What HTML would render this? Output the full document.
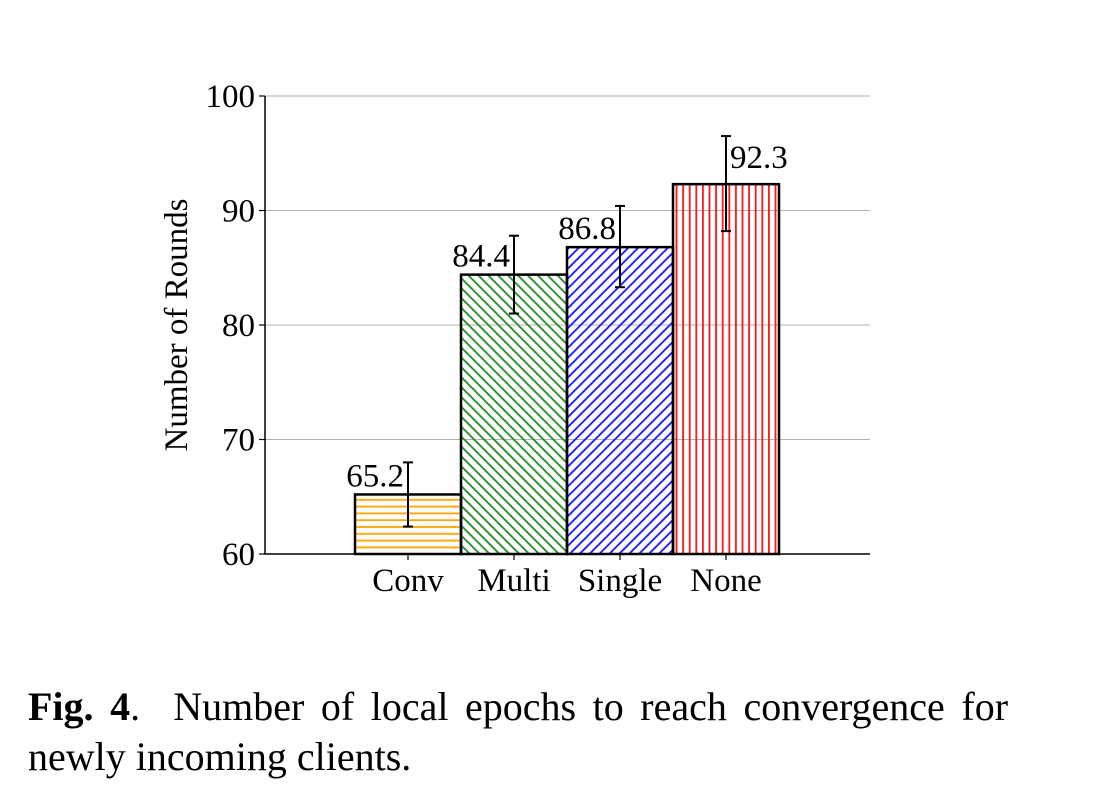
<!DOCTYPE html>
<html><head><meta charset="utf-8"><style>
body{margin:0;background:#fff;width:1100px;height:806px;overflow:hidden;font-family:"Liberation Serif",serif;}
svg text{font-family:"Liberation Serif",serif;fill:#000;}
#cap{position:absolute;left:28px;top:682px;width:980px;font-size:40px;line-height:50px;}
#l1{display:block;text-align:justify;text-align-last:justify;white-space:nowrap;}
</style></head><body>
<svg id="chart" width="1100" height="680" style="position:absolute;left:0;top:0">
<defs>
<pattern id="p0" patternUnits="userSpaceOnUse" width="7" height="6.8"><line x1="0" y1="3.4" x2="7" y2="3.4" stroke="#FFA500" stroke-width="1.8"/></pattern>
<pattern id="p1" patternUnits="userSpaceOnUse" width="7" height="7" patternTransform="rotate(-45)"><line x1="3.5" y1="0" x2="3.5" y2="7" stroke="#228B22" stroke-width="1.8"/></pattern>
<pattern id="p2" patternUnits="userSpaceOnUse" width="7" height="7" patternTransform="rotate(45)"><line x1="3.5" y1="0" x2="3.5" y2="7" stroke="#1515FF" stroke-width="1.8"/></pattern>
<pattern id="p3" patternUnits="userSpaceOnUse" width="6.6" height="7"><line x1="3.3" y1="0" x2="3.3" y2="7" stroke="#FF1515" stroke-width="1.8"/></pattern>
</defs>
<g id="g"></g>
</svg>
<div id="cap"><span id="l1"><b>Fig. 4</b>.&nbsp; Number of local epochs to reach convergence for</span>newly incoming clients.</div>
<script>
const categories=["Conv","Multi","Single","None"];
const values=[65.2,84.4,86.8,92.3];
const errLow=[62.4,81.0,83.3,88.2];
const errHigh=[68.0,87.8,90.4,96.5];
const yTicks=[60,70,80,90,100];
const NS="http://www.w3.org/2000/svg";
const g=document.getElementById('g');
const x0=265,x1=870,yTop=96,yBot=554,yMin=60,yMax=100;
const y=v=>yBot-(v-yMin)/(yMax-yMin)*(yBot-yTop);
const bw=106,start=355;
const bx=i=>start+i*bw;
function mk(t,a,p){const e=document.createElementNS(NS,t);for(const k in a)e.setAttribute(k,a[k]);(p||g).appendChild(e);return e;}
yTicks.forEach(t=>{
  if(t>yMin){const l=mk('line',{x1:x0,x2:x1,y1:y(t),y2:y(t),stroke:'#b0b0b0','stroke-width':1});
  
  }
  const tk=mk('line',{x1:x0-6,x2:x0,y1:y(t),y2:y(t),stroke:'#000','stroke-width':1.2});
  
  
  const tx=mk('text',{x:x0-10,y:y(t)+11,'text-anchor':'end','font-size':33});
  tx.textContent=t;
  
  
});
categories.forEach((c,i)=>{
  const r=mk('rect',{x:bx(i),y:y(values[i]),width:bw,height:yBot-y(values[i]),fill:'url(#p'+i+')',stroke:'#000','stroke-width':2.5});
  
  
  const cx=bx(i)+bw/2;
  const eg=mk('g',{stroke:'#000','stroke-width':2});
  
  
  mk('line',{x1:cx,x2:cx,y1:y(errLow[i]),y2:y(errHigh[i])},eg);
  mk('line',{x1:cx-5,x2:cx+5,y1:y(errLow[i]),y2:y(errLow[i])},eg);
  mk('line',{x1:cx-5,x2:cx+5,y1:y(errHigh[i]),y2:y(errHigh[i])},eg);
  const vl=mk('text',{x:i==3?cx+4:cx-4,y:y(values[i])-(i==3?16:8),'text-anchor':i==3?'start':'end','font-size':33});
  vl.textContent=values[i].toFixed(1);
  
  
  const xt=mk('line',{x1:cx,x2:cx,y1:yBot,y2:yBot+6,stroke:'#000','stroke-width':1.2});
  
  
  const xl=mk('text',{x:cx,y:yBot+37,'text-anchor':'middle','font-size':33});
  xl.textContent=c;
  
  
});
const ax=mk('path',{d:`M${x0} ${yTop}V${yBot}H${x1}`,fill:'none',stroke:'#000','stroke-width':1.5});


const yt=mk('text',{x:0,y:0,transform:'translate(187,325) rotate(-90)','text-anchor':'middle','font-size':33});
yt.textContent='Number of Rounds';


</script>
</body></html>
